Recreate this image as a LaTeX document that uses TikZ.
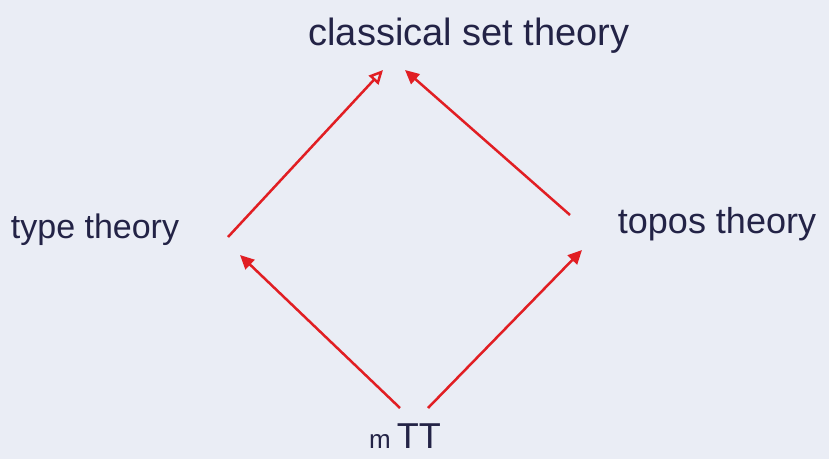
\documentclass[tikz,border=0pt]{standalone}
\usepackage{fontspec}
\setmainfont{Liberation Sans}
\usetikzlibrary{arrows.meta, positioning, calc}
\definecolor{ink}{RGB}{35,35,70}
\definecolor{pen}{RGB}{225,30,35}
\definecolor{paper}{RGB}{234,237,245}

\begin{document}
\begin{tikzpicture}[x=1pt, y=-1pt,
      lbl/.style={text=ink, font=\fontsize{36}{38}\selectfont, inner sep=2pt},
      arr/.style={-{Triangle[length=14pt, width=13pt]}, line width=2.5pt, pen},
      arropen/.style={-{Triangle[open, length=14pt, width=13pt, line width=2.5pt]}, line width=2.5pt, pen},
      ]
    % paper
    \fill[paper] (0,0) rectangle (829,459);

    % theories
    \node[lbl, font=\fontsize{38}{40}\selectfont] (classical) at (469,36) {classical set theory};
    \node[lbl, font=\fontsize{34}{36}\selectfont] (typeth) at (95,230) {type theory};
    \node[lbl] (topos) at (717,224) {topos theory};
    \node[lbl] (mtt) at (405,436) {{\fontsize{26}{28}\selectfont m}\,TT};

    % arrows
    \draw[arropen] ($(typeth)+(133,7)$) -- ($(classical)+(-86,34)$);
    \draw[arr] ($(topos)+(-147,-9)$) -- ($(classical)+(-64,34)$);
    \draw[arr] ($(mtt)+(-5,-28)$) -- ($(typeth)+(145,25)$);
    \draw[arr] ($(mtt)+(23,-28)$) -- ($(topos)+(-135,26)$);
  \end{tikzpicture}
\end{document}
